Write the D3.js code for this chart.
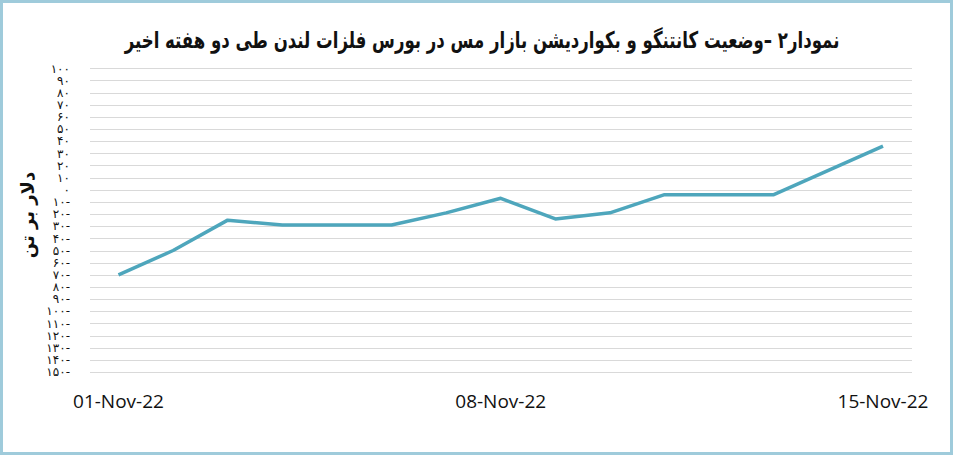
<!DOCTYPE html>
<html>
<head>
<meta charset="utf-8">
<script src="https://cdn.jsdelivr.net/npm/d3@7"></script>
<style>
  body { margin: 0; background: #fff; }
  svg { display: block; }
</style>
</head>
<body>
<svg id="chart" width="953" height="455"></svg>
<script>
// data
var dates = ["2022-11-01", "2022-11-02", "2022-11-03", "2022-11-04", "2022-11-05",
             "2022-11-06", "2022-11-07", "2022-11-08", "2022-11-09", "2022-11-10",
             "2022-11-11", "2022-11-12", "2022-11-13", "2022-11-14", "2022-11-15"];
var spread = [-70, -50, -25, -29, -29, -29, -19, -7, -24, -19, -4, -4, -4, 16, 36];
var yTicks = [100, 90, 80, 70, 60, 50, 40, 30, 20, 10, 0, -10, -20, -30, -40, -50,
              -60, -70, -80, -90, -100, -110, -120, -130, -140, -150];
var xTicks = ["2022-11-01", "2022-11-08", "2022-11-15"];
var titleText = "نمودار۲ –وضعیت کانتنگو و بکواردیشن بازار مس در بورس فلزات لندن طی دو هفته اخیر";
var yTitle = "دلار بر تن";

var width = 953, height = 455;
var svg = d3.select("#chart");
var parseDate = d3.timeParse("%Y-%m-%d");

var x = d3.scaleTime()
    .domain([parseDate(dates[0]), parseDate(dates[dates.length - 1])])
    .range([118.5, 883]);
var y = d3.scaleLinear()
    .domain([-150, 100])
    .range([372, 68.3]);

function persianDigits(n) {
    var s = String(Math.abs(n)).replace(/\d/g, function (d) { return "۰۱۲۳۴۵۶۷۸۹"[d]; });
    return n < 0 ? s + "-" : s;
}

svg.append("rect")
    .attr("x", 1.5).attr("y", 1.5)
    .attr("width", width - 3).attr("height", height - 3)
    .attr("fill", "#fff")
    .attr("stroke", "#9fcbdb")
    .attr("stroke-width", 3);

// gridlines
svg.append("g")
    .selectAll("line")
    .data(yTicks)
    .enter()
    .append("line")
    .attr("x1", 90)
    .attr("x2", 912)
    .attr("y1", function (d) { return Math.round(y(d)) + 0.5; })
    .attr("y2", function (d) { return Math.round(y(d)) + 0.5; })
    .attr("stroke", "#d9d9d9")
    .attr("stroke-width", 1);

// y labels
svg.append("g")
    .selectAll("text")
    .data(yTicks)
    .enter()
    .append("text")
    .attr("x", 70)
    .attr("y", function (d) { return y(d); })
    .attr("dy", "0.35em")
    .attr("text-anchor", "end")
    .style("font-family", "DejaVu Sans")
    .style("font-size", "12px")
    .style("fill", "#111")
    .text(function (d) { return persianDigits(d); });

svg.append("text")
    .attr("transform", "translate(34,215) rotate(-90)")
    .attr("text-anchor", "middle")
    .attr("direction", "rtl")
    .style("font-family", "DejaVu Sans")
    .style("font-weight", "bold")
    .style("font-size", "18px")
    .style("fill", "#111")
    .text(yTitle);

// x axis labels
var fmt = d3.timeFormat("%d-%b-%y");
svg.append("g")
    .selectAll("text")
    .data(xTicks)
    .enter()
    .append("text")
    .attr("x", function (d) { return x(parseDate(d)); })
    .attr("y", 408)
    .attr("text-anchor", "middle")
    .style("font-family", "Open Sans")
    .style("font-size", "19px")
    .style("fill", "#111")
    .text(function (d) { return fmt(parseDate(d)); });

// line
var line = d3.line()
    .x(function (d, i) { return x(parseDate(dates[i])); })
    .y(function (d) { return y(d); });

svg.append("path")
    .datum(spread)
    .attr("d", line)
    .attr("fill", "none")
    .attr("stroke", "#4ea6bc")
    .attr("stroke-width", 3.5)
    .attr("stroke-linejoin", "round");

// title, squeezed horizontally like the condensed original font
svg.append("text")
    .attr("transform", "translate(482,48) scale(0.72,1)")
    .attr("text-anchor", "middle")
    .attr("direction", "rtl")
    .style("font-family", "DejaVu Sans")
    .style("font-weight", "bold")
    .style("font-size", "23px")
    .style("fill", "#111")
    .text(titleText);
</script>
</body>
</html>
